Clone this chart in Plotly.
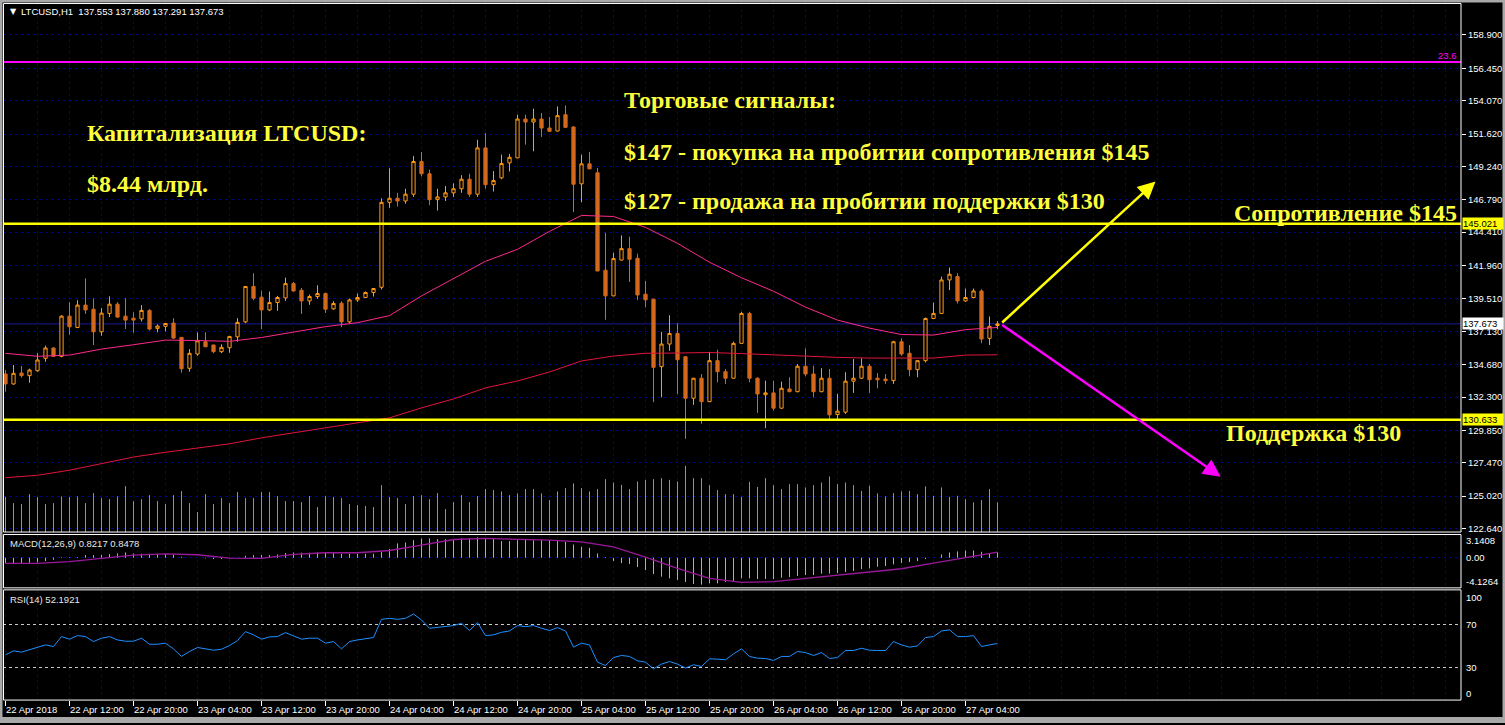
import plotly.graph_objects as go

W, H = 1505, 725


def px(x):
    return x / W


def py(y):
    return 1 - y / H


# ---------------- data ----------------
header_symbol = "LTCUSD,H1"
header_ohlc = ["137.553", "137.880", "137.291", "137.673"]
macd_header = "MACD(12,26,9) 0.8217 0.8478"
rsi_header = "RSI(14) 52.1921"

opens = [133.99, 133.26, 134.06, 133.87, 134.23, 135.14, 135.90, 135.29, 138.24, 137.41,
         139.05, 138.75, 137.09, 138.44, 139.12, 138.24, 138.09, 138.04, 138.66, 137.34,
         137.49, 137.73, 136.68, 134.41, 135.46, 136.36, 136.12, 135.63, 135.92, 136.72,
         137.82, 140.42, 139.63, 138.70, 139.24, 139.58, 140.63, 140.14, 139.36, 139.68,
         139.90, 138.78, 139.19, 137.82, 139.43, 139.61, 139.98, 140.36, 146.60, 146.90,
         146.70, 147.20, 149.60, 148.70, 146.80, 147.00, 147.30, 147.60, 148.30, 147.20,
         150.60, 147.90, 148.40, 149.50, 149.87, 152.72, 152.50, 152.72, 152.06, 151.84,
         153.04, 152.14, 147.96, 149.43, 148.77, 141.61, 139.73, 142.36, 143.20, 142.49,
         139.85, 139.49, 134.53, 136.19, 136.97, 135.26, 132.21, 133.68, 131.96, 134.97,
         134.16, 133.68, 136.24, 138.44, 133.68, 132.47, 132.60, 131.48, 132.89, 132.69,
         134.56, 133.99, 132.69, 133.68, 131.01, 131.19, 133.46, 133.68, 134.56, 133.68,
         133.62, 133.50, 136.36, 135.51, 134.31, 134.97, 138.07, 138.44, 140.90, 141.15,
         139.36, 139.61, 140.09, 136.61, 137.553]
highs = [134.28, 134.65, 134.58, 134.38, 135.51, 136.07, 135.95, 138.30, 139.27, 139.41,
         141.02, 139.54, 138.83, 139.70, 139.27, 139.56, 138.53, 139.05, 138.75, 137.63,
         137.72, 138.09, 136.70, 135.82, 137.05, 137.05, 136.14, 136.17, 136.77, 138.09,
         140.45, 141.39, 140.12, 140.05, 139.73, 141.07, 140.75, 140.31, 139.83, 140.51,
         139.97, 139.34, 139.34, 139.54, 139.90, 140.05, 140.29, 146.90, 149.10, 147.30,
         147.60, 150.00, 150.30, 149.00, 147.60, 147.80, 148.00, 148.60, 148.70, 151.20,
         151.70, 148.90, 150.11, 150.16, 153.04, 153.04, 153.48, 153.16, 152.87, 153.65,
         153.72, 152.18, 150.11, 150.31, 149.13, 144.37, 142.91, 144.17, 144.08, 142.83,
         140.83, 139.51, 137.09, 138.31, 137.71, 135.28, 133.70, 133.99, 135.58, 135.77,
         134.36, 136.36, 138.56, 138.56, 133.75, 133.50, 133.50, 133.43, 133.75, 134.72,
         135.87, 134.60, 134.41, 134.36, 132.53, 134.12, 135.09, 135.14, 134.72, 134.06,
         133.99, 136.43, 136.61, 136.12, 134.99, 138.14, 139.24, 141.15, 141.81, 141.39,
         140.27, 140.27, 140.22, 138.22, 137.880]
lows = [132.69, 133.19, 133.72, 133.35, 134.16, 134.89, 135.25, 135.22, 136.87, 137.36,
        138.41, 136.12, 136.80, 138.17, 138.12, 137.29, 137.02, 137.85, 137.19, 137.05,
        137.12, 136.56, 134.09, 134.16, 135.33, 135.97, 135.51, 135.53, 135.55, 136.36,
        137.73, 139.41, 137.29, 138.61, 138.63, 139.36, 140.05, 138.41, 139.07, 139.51,
        138.48, 138.70, 137.43, 137.73, 139.29, 139.58, 139.68, 140.20, 146.20, 146.30,
        146.50, 147.00, 148.50, 146.40, 146.00, 146.70, 147.00, 147.30, 147.00, 147.00,
        147.60, 147.40, 148.30, 148.86, 149.85, 150.84, 150.35, 151.41, 151.77, 151.82,
        152.09, 145.88, 146.61, 149.04, 141.54, 137.97, 139.70, 142.34, 140.75, 139.41,
        138.88, 131.92, 132.28, 135.70, 132.52, 129.23, 131.72, 130.33, 131.92, 133.38,
        133.26, 133.66, 136.22, 133.38, 131.13, 130.01, 131.30, 131.43, 132.65, 132.65,
        133.82, 132.28, 132.65, 130.69, 130.69, 131.06, 132.60, 133.62, 132.60, 132.94,
        133.26, 133.26, 135.33, 133.82, 133.75, 134.85, 138.02, 138.41, 140.15, 139.17,
        139.29, 139.54, 136.26, 136.12, 137.291]
closes = [133.26, 134.04, 133.87, 134.28, 135.02, 135.90, 135.29, 138.24, 137.46, 139.05,
          138.70, 137.09, 138.46, 139.12, 138.17, 137.95, 137.95, 138.66, 137.29, 137.51,
          137.70, 136.63, 134.38, 135.51, 136.43, 135.99, 135.63, 135.95, 136.75, 137.78,
          140.42, 139.56, 138.70, 139.24, 139.61, 140.63, 140.09, 139.36, 139.68, 139.90,
          138.75, 139.17, 137.82, 139.43, 139.61, 139.98, 140.27, 146.60, 146.90, 146.70,
          147.20, 149.60, 148.70, 146.80, 147.00, 147.30, 147.60, 148.30, 147.20, 150.60,
          147.90, 148.20, 149.45, 149.91, 152.72, 152.50, 152.72, 152.06, 151.82, 152.97,
          152.11, 147.93, 149.43, 149.06, 141.56, 139.73, 142.47, 143.20, 142.42, 139.80,
          139.44, 134.48, 136.19, 136.97, 135.04, 132.21, 133.68, 131.96, 134.97, 134.16,
          133.68, 136.24, 138.44, 133.68, 132.52, 132.60, 131.48, 132.94, 132.69, 134.56,
          133.99, 132.69, 133.68, 130.99, 131.26, 133.46, 133.68, 134.56, 133.57, 133.57,
          133.50, 136.36, 135.46, 134.31, 134.97, 138.07, 138.44, 140.90, 141.32, 139.36,
          139.61, 140.09, 136.56, 137.49, 137.673]
volumes = [353, 290, 280, 380, 350, 280, 290, 357, 350, 357,
           290, 390, 340, 330, 357, 460, 310, 330, 370, 310,
           280, 370, 410, 290, 200, 380, 280, 340, 290, 400,
           340, 340, 400, 400, 360, 310, 310, 300, 360, 250,
           360, 350, 340, 280, 270, 260, 250, 470, 350, 340,
           280, 360, 370, 330, 390, 230, 300, 370, 300, 360,
           430, 420, 407, 370, 387, 430, 430, 387, 320, 407,
           440, 487, 440, 407, 430, 530, 497, 473, 430, 507,
           523, 530, 540, 523, 507, 663, 540, 540, 470, 420,
           380, 380, 353, 503, 453, 540, 470, 430, 480, 480,
           447, 470, 497, 557, 480, 497, 470, 413, 463, 387,
           357, 390, 407, 413, 380, 457, 363, 447, 353, 363,
           330, 297, 320, 430, 297]

# moving averages, read every 4 bars
ma_bars = [0, 4, 8, 12, 16, 20, 24, 28, 32, 36, 40, 44, 48, 52, 56, 60,
           64, 68, 72, 76, 80, 84, 88, 92, 96, 100, 104, 108, 112, 116, 120, 124]
ma_fast = [135.51, 135.29, 135.38, 135.82, 136.14, 136.48, 136.45, 136.39, 136.67, 137.07,
           137.47, 137.76, 138.28, 139.73, 141.00, 142.27, 143.15, 144.47, 145.64, 145.56,
           144.76, 143.59, 142.20, 141.06, 140.07, 138.90, 137.95, 137.36, 136.89, 136.85,
           137.25, 137.41]
ma_slow = [126.37, 126.55, 126.92, 127.40, 127.89, 128.24, 128.57, 128.86, 129.30, 129.67,
           130.07, 130.40, 130.77, 131.50, 132.16, 132.97, 133.48, 134.14, 134.95, 135.31,
           135.51, 135.53, 135.57, 135.49, 135.38, 135.27, 135.21, 135.16, 135.14, 135.16,
           135.38, 135.40]

macd_main = [-0.82, -0.82, -0.82, -0.77, -0.72, -0.51, -0.31, 0.10, 0.10, 0.10,
             0.41, 0.41, 0.41, 0.56, 0.66, 0.82, 0.66, 0.61, 0.61, 0.61,
             0.56, 0.51, 0.15, 0.00, 0.00, -0.10, -0.20, -0.20, -0.10, 0.00,
             0.31, 0.41, 0.41, 0.41, 0.51, 0.72, 0.82, 0.77, 0.77, 0.82,
             0.77, 0.72, 0.61, 0.61, 0.61, 0.61, 0.61, 0.92, 1.33, 2.20,
             2.35, 2.71, 2.97, 2.97, 2.86, 2.86, 2.86, 2.97, 2.97, 3.14,
             2.97, 2.97, 2.56, 2.56, 2.71, 2.81, 2.71, 2.71, 2.71, 2.61,
             2.45, 2.04, 1.69, 1.53, 0.66, 0.10, -0.51, -0.82, -0.97, -1.43,
             -1.89, -2.51, -2.91, -3.17, -3.43, -3.73, -4.04, -4.13, -3.94, -3.94,
             -3.73, -3.58, -3.17, -3.17, -3.27, -3.27, -3.27, -3.07, -2.97, -2.81,
             -2.66, -2.66, -2.45, -2.45, -2.35, -2.20, -2.04, -1.74, -1.64, -1.38,
             -1.28, -1.02, -0.82, -0.66, -0.51, -0.20, 0.00, 0.51, 0.82, 0.97,
             1.12, 1.12, 0.92, 0.72, 0.82]
macd_signal = [-0.87, -0.87, -0.61, -0.10, 0.41, 0.61, 0.46, -0.05, -0.10, 0.51,
               0.77, 0.77, 1.12, 1.94, 2.81, 2.97, 2.86, 2.71, 2.45, 1.69,
               0.10, -1.64, -3.17, -3.78, -3.68, -3.17, -2.76, -2.25, -1.69, -0.82,
               0.05, 0.85]

rsi = [41.7, 45.4, 44.2, 46.3, 49.1, 50.9, 49.4, 58.6, 56.2, 59.5,
       58.6, 54.0, 57.1, 58.6, 55.5, 54.3, 54.3, 57.1, 51.5, 51.5,
       52.5, 47.2, 40.2, 44.8, 48.5, 46.9, 46.0, 46.9, 50.3, 54.9,
       63.2, 60.2, 56.2, 58.3, 58.6, 62.3, 59.5, 56.2, 57.1, 57.1,
       52.5, 54.0, 47.2, 54.0, 55.5, 56.5, 57.7, 74.6, 75.5, 74.6,
       75.5, 79.5, 74.0, 66.3, 66.9, 67.8, 68.8, 70.9, 64.2, 71.5,
       59.5, 60.2, 62.6, 63.8, 68.8, 67.8, 68.8, 66.3, 64.2, 66.9,
       63.8, 48.8, 52.5, 50.9, 34.9, 31.8, 39.2, 41.1, 40.2, 36.2,
       34.9, 28.8, 33.1, 35.5, 33.1, 29.4, 32.5, 30.9, 38.0, 37.7,
       37.1, 42.6, 47.2, 40.2, 38.6, 38.3, 36.5, 40.2, 40.2, 44.8,
       43.8, 41.1, 43.8, 38.3, 39.2, 45.7, 45.7, 47.8, 46.0, 45.7,
       45.7, 54.0, 50.9, 48.8, 50.0, 57.7, 58.6, 63.8, 64.8, 58.6,
       58.6, 59.5, 49.4, 50.9, 52.19]

price_ticks = [158.900, 156.450, 154.070, 151.620, 149.240, 146.790, 144.410, 141.960,
               139.510, 137.130, 134.680, 132.300, 129.850, 127.470, 125.020, 122.640]
time_labels = ["22 Apr 2018", "22 Apr 12:00", "22 Apr 20:00", "23 Apr 04:00",
               "23 Apr 12:00", "23 Apr 20:00", "24 Apr 04:00", "24 Apr 12:00",
               "24 Apr 20:00", "25 Apr 04:00", "25 Apr 12:00", "25 Apr 20:00",
               "26 Apr 04:00", "26 Apr 12:00", "26 Apr 20:00", "27 Apr 04:00"]
bars_per_label = 8

resistance = 145.021
support = 130.633
fibo_236 = 156.92
last_price = 137.673
buy_target = (143.75, 148.13)   # (bar, price) arrow tip
sell_target = (151.9, 126.45)

macd_labels = [("3.1408", 542), ("0.00", 559.3), ("-4.1264", 583.3)]
rsi_labels = [("100", 599), ("70", 626.7), ("30", 669.3), ("0", 695)]

# ---------------- figure ----------------
n = len(opens)
bars = list(range(n))
fig = go.Figure()

# volume histogram in main window
vx, vy = [], []
for i, v in enumerate(volumes):
    vx += [i, i, None]
    vy += [0, v, None]
fig.add_trace(go.Scatter(x=vx, y=vy, mode="lines", line=dict(color="#3CD23C", width=1),
                         xaxis="x", yaxis="y4", hoverinfo="skip"))

fig.add_trace(go.Candlestick(
    x=bars, open=opens, high=highs, low=lows, close=closes,
    increasing=dict(line=dict(color="#FF9A1A", width=1), fillcolor="#000000"),
    decreasing=dict(line=dict(color="#D2691E", width=1), fillcolor="#D2691E"),
    whiskerwidth=0, xaxis="x", yaxis="y", hoverinfo="skip"))

fig.add_trace(go.Scatter(x=ma_bars, y=ma_slow, mode="lines",
                         line=dict(color="#E0143C", width=1), xaxis="x", yaxis="y"))
fig.add_trace(go.Scatter(x=ma_bars, y=ma_fast, mode="lines",
                         line=dict(color="#FF2A8A", width=1), xaxis="x", yaxis="y"))

# MACD
hx, hy = [], []
for i, v in enumerate(macd_main):
    hx += [i, i, None]
    hy += [0, v, None]
fig.add_trace(go.Scatter(x=hx, y=hy, mode="lines", line=dict(color="#FFA020", width=1),
                         xaxis="x2", yaxis="y2", hoverinfo="skip"))
fig.add_trace(go.Scatter(x=ma_bars, y=macd_signal, mode="lines",
                         line=dict(color="#9A189A", width=1.3), xaxis="x2", yaxis="y2"))

# RSI
fig.add_trace(go.Scatter(x=bars, y=rsi, mode="lines", line=dict(color="#1E90FF", width=1),
                         xaxis="x3", yaxis="y3"))

grid_col = "#000090"
grid_dash = "3px,3px"
# bar i centred on pixel column 5.5 + 8*i  (crisp 1px lines)
x_range = [-0.3125, 181.9375]
xdom = [px(3), px(1461)]
vgrid = list(range(4, 181, 4))
label_bars = [k * bars_per_label for k in range(len(time_labels))]

common_x = dict(domain=xdom, range=x_range, showticklabels=False, ticks="",
                showgrid=True, gridcolor=grid_col, griddash=grid_dash, gridwidth=1,
                zeroline=False, showline=False, fixedrange=True)

fig.update_layout(
    width=W, height=H, margin=dict(l=0, r=0, t=0, b=0), autosize=False,
    paper_bgcolor="#000000", plot_bgcolor="#000000", showlegend=False, hovermode=False,
    boxgap=0.42,
    xaxis=dict(common_x, anchor="y", tickvals=vgrid, rangeslider=dict(visible=False)),
    xaxis2=dict(common_x, anchor="y2", tickvals=vgrid),
    xaxis3=dict(domain=xdom, range=x_range, anchor="y3", tickmode="array", tickvals=label_bars,
                ticks="outside", ticklen=5, tickcolor="#FFFFFF", tickwidth=1,
                showticklabels=False, showgrid=True, gridcolor=grid_col, griddash=grid_dash,
                zeroline=False, showline=False,
                minor=dict(tickmode="array", tickvals=vgrid, ticks="", showgrid=True,
                           gridcolor=grid_col, griddash=grid_dash, gridwidth=1)),
    yaxis=dict(domain=[py(533.5), py(3.5)], range=[122.38, 161.21], side="right", anchor="x",
               tickmode="array", tickvals=price_ticks,
               ticktext=[f"{v:.3f}" for v in price_ticks],
               ticks="outside", ticklen=4, tickcolor="#FFFFFF",
               tickfont=dict(color="#FFFFFF", size=9.5, family="Liberation Sans"),
               showgrid=True, gridcolor=grid_col, griddash=grid_dash, zeroline=False,
               showline=False, fixedrange=True),
    yaxis4=dict(overlaying="y", range=[0, 5300], visible=False, fixedrange=True),
    yaxis2=dict(domain=[py(589.5), py(536)], range=[-4.632, 3.574], anchor="x2",
                tickmode="array", tickvals=[0], showticklabels=False, ticks="",
                showgrid=True, gridcolor=grid_col, griddash=grid_dash, zeroline=False,
                fixedrange=True),
    yaxis3=dict(domain=[py(702), py(591.5)], range=[-0.2, 101.87], anchor="x3",
                tickmode="array", tickvals=[30, 70], showticklabels=False, ticks="",
                showgrid=True, gridcolor="#C8C8C8", griddash=grid_dash, zeroline=False,
                fixedrange=True),
)

shapes = []
# horizontal levels
shapes.append(dict(type="line", xref="x domain", yref="y", x0=0, x1=1, y0=last_price,
                   y1=last_price, line=dict(color="#1A1A9A", width=1), layer="below"))
shapes.append(dict(type="line", xref="x domain", yref="y", x0=0, x1=1, y0=fibo_236,
                   y1=fibo_236, line=dict(color="#FF00FF", width=2)))
for lvl in (resistance, support):
    shapes.append(dict(type="line", xref="x domain", yref="y", x0=0, x1=1, y0=lvl, y1=lvl,
                       line=dict(color="#FFFF00", width=2.5)))
# panel frames
for (y0, y1) in [(3.5, 533.5), (536, 589.5), (591.5, 702)]:
    shapes.append(dict(type="rect", xref="paper", yref="paper", x0=px(3.5), x1=px(1461),
                       y0=py(y1), y1=py(y0), line=dict(color="#FFFFFF", width=1)))
# window border (gray)
gray = "#A8A8A8"
for (x0, y0, x1, y1) in [(0, 0, 1505, 2.5), (0, 0, 2.5, 725), (1502.5, 0, 1505, 725),
                         (0, 719, 1505, 725)]:
    shapes.append(dict(type="rect", xref="paper", yref="paper", x0=px(x0), x1=px(x1),
                       y0=py(y1), y1=py(y0), line=dict(width=0), fillcolor=gray))
fig.update_layout(shapes=shapes)

ann = []
small = dict(family="Liberation Sans", size=9.5, color="#FFFFFF")
# header texts
ann.append(dict(xref="paper", yref="paper", x=px(8), y=py(12), text="▼", showarrow=False,
                xanchor="left", yanchor="middle", font=dict(family="DejaVu Sans", size=8,
                                                             color="#FFFFFF")))
ann.append(dict(xref="paper", yref="paper", x=px(19), y=py(12),
                text=header_symbol + "\u00a0\u00a0" + " ".join(header_ohlc), showarrow=False,
                xanchor="left", yanchor="middle",
                font=dict(family="Liberation Sans", size=9.5, color="#FFFFFF")))
ann.append(dict(xref="paper", yref="paper", x=px(8), y=py(545), text=macd_header,
                showarrow=False, xanchor="left", yanchor="middle",
                font=dict(family="Liberation Sans", size=9.5, color="#E8E8E8")))
ann.append(dict(xref="paper", yref="paper", x=px(8), y=py(601.5), text=rsi_header,
                showarrow=False, xanchor="left", yanchor="middle",
                font=dict(family="Liberation Sans", size=9.5, color="#E8E8E8")))
# time labels
for b, t in zip(label_bars, time_labels):
    ann.append(dict(xref="x3", yref="paper", x=b, y=py(711.5), text=t, showarrow=False,
                    xanchor="left", yanchor="middle", xshift=-2, font=small))
# MACD / RSI scale labels
for t, yy in macd_labels + rsi_labels:
    ann.append(dict(xref="paper", yref="paper", x=px(1464), y=py(yy), text=t,
                    showarrow=False, xanchor="left", yanchor="middle", font=small))
# highlighted price labels
for val, bg in [(resistance, "#FFFF00"), (support, "#FFFF00"), (last_price, "#FFFFFF")]:
    ann.append(dict(xref="paper", yref="y", x=px(1461.5), y=val, text=f"{val:.3f}",
                    showarrow=False, xanchor="left", yanchor="middle", bgcolor=bg,
                    width=40, height=11, borderpad=0, align="left",
                    font=dict(family="Liberation Sans", size=9.5, color="#000000")))
ann.append(dict(xref="paper", yref="y", x=px(1459), y=fibo_236, text="23.6", showarrow=False,
                xanchor="right", yanchor="bottom", yshift=-1,
                font=dict(family="Liberation Sans", size=9.5, color="#FF00FF")))

# big yellow texts
big = dict(family="Liberation Serif", size=24, color="#FFFF3C")
texts = [
    (85, 133, "<b>Капитализация LTCUSD:</b>", "left"),
    (85, 185, "<b>$8.44 млрд.</b>", "left"),
    (622, 100, "<b>Торговые сигналы:</b>", "left"),
    (622, 152, "<b>$147 - покупка на пробитии сопротивления $145</b>", "left"),
    (622, 202, "<b>$127 - продажа на пробитии поддержки $130</b>", "left"),
    (1459, 214, "<b>Сопротивление $145</b>", "right"),
    (1224, 434, "<b>Поддержка $130</b>", "left"),
]
for x, y, t, anc in texts:
    ann.append(dict(xref="paper", yref="paper", x=px(x), y=py(y), text=t, showarrow=False,
                    xanchor=anc, yanchor="middle", font=big))

# arrows from the last bar
last_bar = bars[-1] + 0.4
for (tb, tp), col in [(buy_target, "#FFFF00"), (sell_target, "#FF00FF")]:
    ann.append(dict(xref="x", yref="y", axref="x", ayref="y", x=tb, y=tp, ax=last_bar,
                    ay=last_price, text="", showarrow=True, arrowhead=2, arrowsize=1.4,
                    arrowwidth=2.5, arrowcolor=col, standoff=0, startstandoff=0))

fig.update_layout(annotations=ann)

fig.write_html("out.html", config={"displayModeBar": False},
               post_script="document.body.style.margin='0px';"
                           "document.body.style.overflow='hidden';")
